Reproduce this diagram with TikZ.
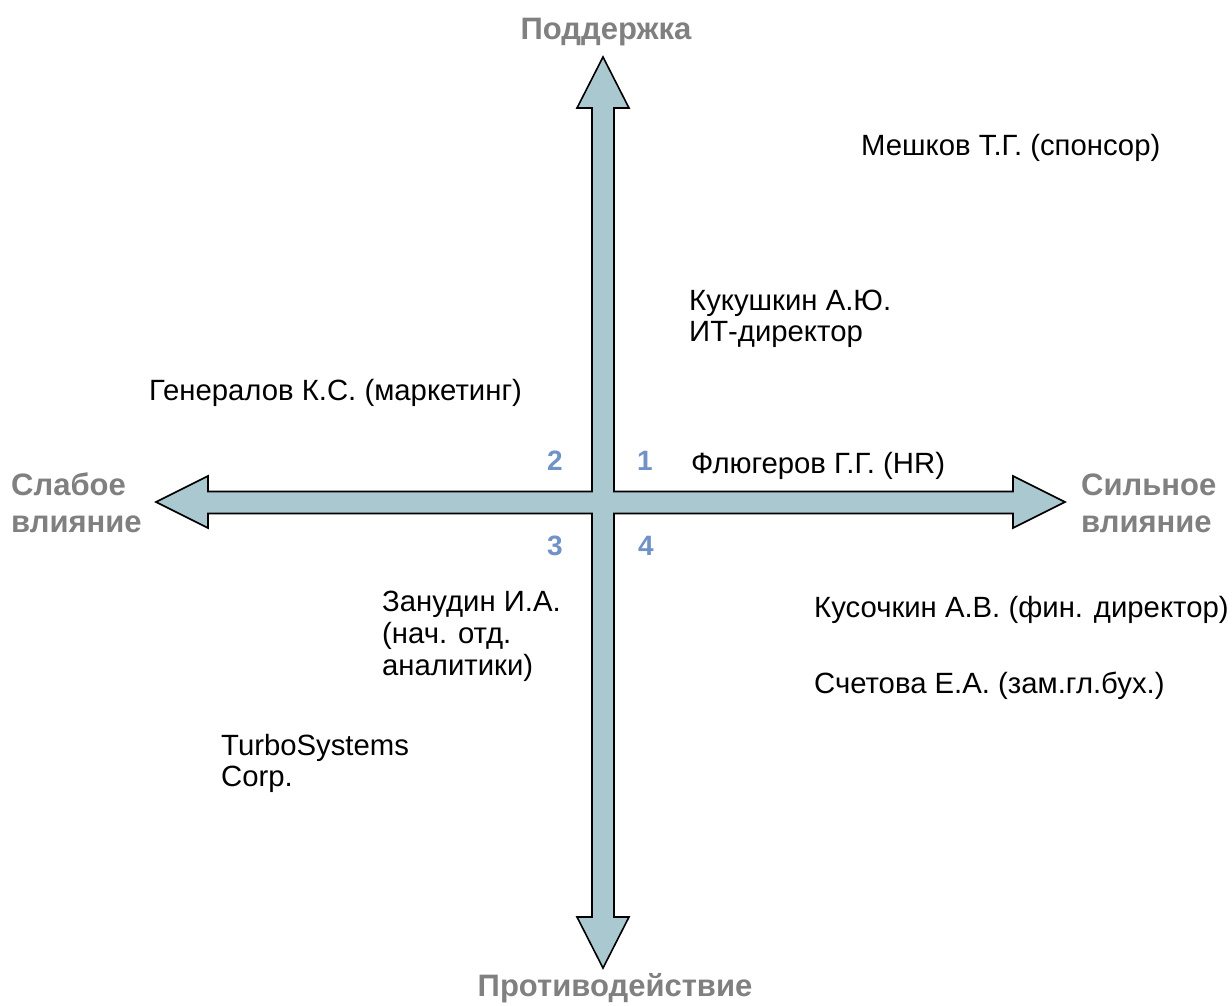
\documentclass[tikz,border=0pt]{standalone}
\usepackage{fontspec}
\setmainfont{Liberation Sans}
\definecolor{arrowfill}{RGB}{170,200,208}
\definecolor{axislabel}{RGB}{128,128,128}
\definecolor{quadnum}{RGB}{112,146,199}
\begin{document}
\begin{tikzpicture}[x=1pt,y=-1pt,
  person/.style={anchor=base west,inner sep=0pt,font=\fontsize{29.3}{32}\selectfont,text=black},
  axistext/.style={inner sep=0pt,font=\fontsize{31}{38}\selectfont\bfseries,text=axislabel},
  quadtext/.style={inner sep=0pt,anchor=center,font=\fontsize{28}{32}\selectfont\bfseries,text=quadnum},
  crossshape/.style={fill=arrowfill,draw=black,line width=1.6pt,line join=miter}]
\useasboundingbox (0,0) rectangle (1232,1005);
% cross of four arrows
\draw[crossshape]
  (603,57) -- (629,108) -- (614,108) -- (614,491.5)
  -- (1013,491.5) -- (1013,476) -- (1065,502) -- (1013,528) -- (1013,513.5)
  -- (614,513.5) -- (614,917) -- (629,917) -- (603,968) -- (577,917) -- (592,917)
  -- (592,513.5) -- (208,513.5) -- (208,528) -- (156,502) -- (208,476) -- (208,491.5)
  -- (592,491.5) -- (592,108) -- (577,108) -- cycle;
% axis labels
\node[axistext,anchor=base] (up) at (606,39) {Поддержка};
\node[axistext,anchor=base] (down) at (615,996) {Противодействие};
\node[axistext,anchor=base west] (weak1) at (11,495) {Слабое};
\node[axistext,anchor=base west] (weak2) at (11,532) {влияние};
\node[axistext,anchor=base west] (strong1) at (1081,495) {Сильное};
\node[axistext,anchor=base west] (strong2) at (1081,532) {влияние};
% quadrant numbers
\node[quadtext] (q1) at (645,461) {1};
\node[quadtext] (q2) at (555,461) {2};
\node[quadtext] (q3) at (555,546) {3};
\node[quadtext] (q4) at (646,546) {4};
% stakeholders
\node[person] (meshkov) at (861,155) {Мешков Т.Г. (спонсор)};
\node[person] (kuk1) at (689,310) {Кукушкин А.Ю.};
\node[person] (kuk2) at (689,341) {ИТ-директор};
\node[person] (gener) at (149,400) {Генералов К.С. (маркетинг)};
\node[person] (flyug) at (691,473) {Флюгеров Г.Г. (HR)};
\node[person] (kus) at (814,617) {Кусочкин А.В. (фин. директор)};
\node[person] (schet) at (814,693) {Счетова Е.А. (зам.гл.бух.)};
\node[person] (zan1) at (382,611) {Занудин И.А.};
\node[person] (zan2) at (382,643) {(нач. отд.};
\node[person] (zan3) at (382,675) {аналитики)};
\node[person] (turbo1) at (221,755) {TurboSystems};
\node[person] (turbo2) at (221,786) {Corp.};
\end{tikzpicture}
\end{document}
